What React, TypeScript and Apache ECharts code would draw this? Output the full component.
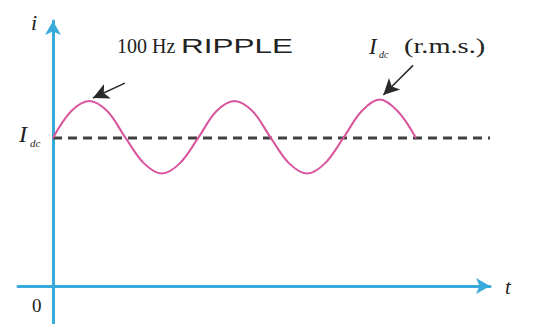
import React, { useEffect, useRef } from "react";
import * as echarts from "echarts";

// Ripple current (time in ms, current relative to I_dc = 1)
const rippleTime = [0, 1.25, 2.5, 3.75, 5, 6.25, 7.5, 8.75, 10, 11.25, 12.5, 13.75, 15, 16.25, 17.5, 18.75, 20, 21.25, 22.5, 23.75, 25];
const rippleCurrent = [1.0, 1.18, 1.25, 1.18, 1.0, 0.83, 0.76, 0.83, 1.0, 1.18, 1.25, 1.18, 1.0, 0.83, 0.76, 0.83, 1.0, 1.18, 1.26, 1.18, 1.0];
// DC level line
const dcTime = [0, 30.1];
const dcLevel = [1, 1];
// Annotation arrows: [fromTime, fromCurrent, toTime, toCurrent]
const rippleArrow = [4.95, 1.37, 2.75, 1.27];
const rmsArrow = [24.8, 1.49, 22.75, 1.29];

const AXIS_COLOR = "#38abdb";
const SERIF = '"Liberation Serif", "DejaVu Serif", serif';
const SANS = '"Liberation Sans", Arial, sans-serif';

export default function App() {
  const ref = useRef<HTMLDivElement>(null);
  useEffect(() => {
    if (!ref.current) return;
    const chart = echarts.init(ref.current, undefined, { renderer: "svg" });
    const arrowLine = (a: number[]) => [
      { coord: [a[0], a[1]], symbol: "none" },
      { coord: [a[2], a[3]], symbol: "arrow", symbolSize: [12, 16] },
    ];
    chart.setOption({
      animation: false,
      backgroundColor: "#ffffff",
      grid: { left: 18, right: 50, top: 21, bottom: 0, containLabel: false },
      xAxis: {
        type: "value",
        min: -2.41,
        max: 30.1,
        axisLine: {
          onZero: true,
          symbol: ["none", "arrow"],
          symbolSize: [12, 14],
          lineStyle: { color: AXIS_COLOR, width: 3 },
        },
        axisTick: { show: false },
        axisLabel: { show: false },
        splitLine: { show: false },
      },
      yAxis: {
        type: "value",
        min: -0.257,
        max: 1.79,
        axisLine: {
          onZero: true,
          symbol: ["none", "arrow"],
          symbolSize: [12, 14],
          lineStyle: { color: AXIS_COLOR, width: 3 },
        },
        axisTick: { show: false },
        axisLabel: { show: false },
        splitLine: { show: false },
      },
      series: [
        {
          type: "line",
          data: dcTime.map((t, i) => [t, dcLevel[i]]),
          showSymbol: false,
          lineStyle: { color: "#404040", width: 3, type: [9, 6] },
          z: 2,
        },
        {
          type: "line",
          data: rippleTime.map((t, i) => [t, rippleCurrent[i]]),
          showSymbol: false,
          smooth: 0.35,
          lineStyle: { color: "#d8559e", width: 2 },
          z: 3,
          markLine: {
            silent: true,
            label: { show: false },
            lineStyle: { color: "#2a2a2a", width: 1.5, type: "solid" },
            data: [arrowLine(rippleArrow), arrowLine(rmsArrow)],
          },
        },
      ],
      graphic: [
        { type: "text", x: 31, y: 22, style: { text: "i", font: `italic 22px ${SERIF}`, fill: "#222", verticalAlign: "middle" } },
        { type: "text", x: 505, y: 287, style: { text: "t", font: `italic 21px ${SERIF}`, fill: "#222", verticalAlign: "middle" } },
        { type: "text", x: 32, y: 305, style: { text: "0", font: `19px ${SERIF}`, fill: "#222", verticalAlign: "middle" } },
        { type: "text", x: 19, y: 134, style: { text: "I", font: `italic 24px ${SERIF}`, fill: "#222", verticalAlign: "middle" } },
        { type: "text", x: 30, y: 143, style: { text: "dc", font: `italic 11px ${SERIF}`, fill: "#222", verticalAlign: "middle" } },
        { type: "text", x: 117, y: 46, style: { text: "100 Hz", font: `20px ${SERIF}`, fill: "#222", verticalAlign: "middle" } },
        { type: "text", x: 181, y: 46, scaleX: 1.5, style: { text: "RIPPLE", font: `21px ${SANS}`, fill: "#222", verticalAlign: "middle" } },
        { type: "text", x: 369, y: 46, style: { text: "I", font: `italic 23px ${SERIF}`, fill: "#222", verticalAlign: "middle" } },
        { type: "text", x: 379, y: 54, style: { text: "dc", font: `italic 10px ${SERIF}`, fill: "#222", verticalAlign: "middle" } },
        { type: "text", x: 404, y: 46, scaleX: 1.42, style: { text: "(r.m.s.)", font: `20px ${SERIF}`, fill: "#222", verticalAlign: "middle" } },
      ],
    });
    return () => chart.dispose();
  }, []);
  return (
    <div
      ref={ref}
      style={{ position: "fixed", left: 0, top: 0, width: 540, height: 324, background: "#fff" }}
    />
  );
}
